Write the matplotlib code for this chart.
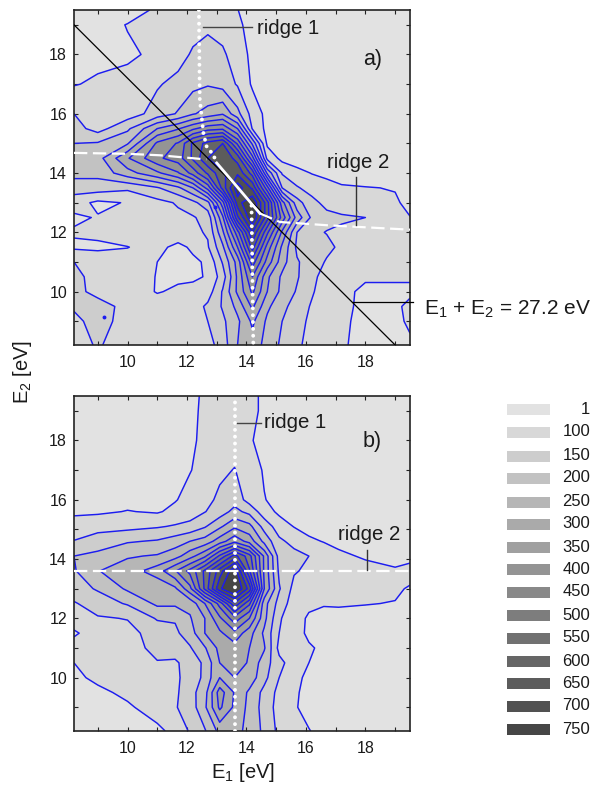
import matplotlib
matplotlib.use("Agg")
import matplotlib.pyplot as plt
from matplotlib.patches import Rectangle
from matplotlib.ticker import MultipleLocator

plt.rcParams['font.family'] = ['Liberation Sans', 'DejaVu Sans']
plt.rcParams['mathtext.default'] = 'regular'

legend_labels = ['1', '100', '150', '200', '250', '300', '350', '400', '450', '500', '550', '600', '650', '700', '750']
levels = [0, 100, 150, 200, 250, 300, 350, 400, 450, 500, 550, 600, 650, 700, 750, 3000]
greys = ['#e2e2e2', '#d8d8d8', '#cdcdcd', '#c2c2c2', '#b6b6b6', '#aaaaaa', '#a0a0a0', '#949494',
         '#898989', '#7d7d7d', '#717171', '#666666', '#5c5c5c', '#515151', '#464646']

a_x = [8.2, 9, 10, 11, 11.7, 12.2, 12.7, 13.2, 13.7, 14.2, 14.7, 15.2, 15.7, 16.2, 16.7, 17.2, 18, 19, 19.5]
a_y = [8.2, 9, 9.5, 10, 10.5, 11, 11.5, 12, 12.5, 13, 13.5, 14, 14.5, 15, 15.5, 16, 17, 18, 19, 19.5]
a_z = [
    [130,155,125,110,110,115,130,175,250,280,230,190,160,130,115,103,92,88,92],
    [140,165,135,115,118,125,150,190,240,310,240,200,165,140,120,105,92,88,108],
    [155,170,135,115,118,125,160,205,265,360,260,215,175,145,125,110,90,92,110],
    [165,135,118,98,105,115,125,205,310,410,300,235,195,155,125,110,92,92,92],
    [165,130,118,98.5,95,92,104,175,310,450,310,240,205,165,125,110,105,105,105],
    [150,125,115,100,85,90,108,205,320,525,380,270,205,175,145,115,105,105,105],
    [92,92,99,115,85,110,145,240,400,620,430,290,190,178,162,140,112,105,105],
    [105,110,120,125,135,140,155,290,480,700,510,340,200,160,148,140,122,108,105],
    [92,103,115,130,140,145,170,340,640,800,620,430,280,190,165,158,150,118,101],
    [120,90,103,135,155,185,235,430,730,800,620,370,220,165,135,120,112,105,90],
    [175,175,160,195,240,300,420,620,780,690,470,200,155,130,115,105,102,98,85],
    [215,215,280,340,395,470,560,640,690,580,290,145,115,98,90,82,75,70,70],
    [220,230,345,440,475,560,650,690,630,420,135,85,75,65,60,55,50,50,50],
    [200,205,245,410,455,560,620,650,490,290,90,75,65,55,50,50,50,50,50],
    [170,130,190,300,345,390,430,440,350,145,85,70,60,55,50,50,50,50,50],
    [150,125,125,170,205,245,270,295,215,130,85,70,60,55,50,50,50,50,50],
    [97,108,120,145,165,185,195,180,145,93,75,65,60,55,50,50,50,50,50],
    [80,85,90,112,130,157,170,158,125,88,70,60,55,50,50,50,50,50,50],
    [60,70,103,115,125,130,140,130,108,85,70,60,55,50,50,50,50,50,50],
    [60,60,65,112,120,125,130,130,101,80,70,60,55,50,50,50,50,50,50],
]

b_x = [8.2, 9, 10, 11, 11.6, 12.1, 12.6, 13.1, 13.6, 14.1, 14.6, 15.1, 15.6, 16.1, 16.6, 17.1, 18, 19, 19.5]
b_y = [8.2, 9, 9.5, 10, 10.5, 11, 11.5, 12, 12.5, 13, 13.6, 14.1, 14.6, 15.1, 15.6, 16, 17, 18, 19, 19.5]
b_z = [
    [70,75,80,88,115,155,195,265,290,215,195,135,115,102,85,80,75,70,70],
    [75,85,92,125,146,172,240,360,290,235,180,130,105,85,78,75,72,70,68],
    [75,88,112,130,140,180,230,375,295,240,185,135,108,85,80,78,75,72,70],
    [88,112,125,135,145,160,215,300,300,280,215,150,115,88,82,80,78,75,72],
    [100,110,125,147,143,170,210,300,345,290,225,165,125,100,85,80,78,75,72],
    [115,120,128,165,172,195,245,315,330,300,255,135,115,105,92,85,80,78,72],
    [95,118,135,170,190,225,300,340,385,320,240,150,118,92,85,82,80,78,75],
    [118,145,152,205,205,245,300,390,480,400,265,155,125,92,88,85,82,80,78],
    [145,175,205,260,260,265,350,470,640,510,270,180,125,112,103,105,102,98,92],
    [180,205,258,262,290,385,560,740,820,680,350,205,135,125,120,115,115,108,95],
    [195,248,275,325,395,465,560,675,790,555,340,190,155,140,130,125,120,105,120],
    [200,215,245,255,280,330,390,510,620,520,340,180,165,150,125,112,93,85,82],
    [152,170,195,205,225,250,270,325,385,330,235,160,135,108,98,85,75,72,70],
    [120,135,135,145,155,165,195,240,290,265,180,125,98,85,78,72,70,68,66],
    [92,92,102,95,112,125,148,175,215,185,122,90,80,74,70,68,66,65,65],
    [85,85,85,85,97,115,135,160,180,130,102,85,75,70,66,65,65,65,65],
    [72,72,72,75,88,98,115,140,152,125,95,80,72,68,65,65,65,65,65],
    [68,68,68,70,78,92,110,125,130,106,82,72,68,65,65,65,65,65,65],
    [65,65,65,68,75,90,108,120,125,112,92,72,66,65,65,65,65,65,65],
    [65,65,65,68,75,90,106,120,125,112,92,72,66,65,65,65,65,65,65],
]

a_r1_up_x = [12.40, 12.43, 12.55, 12.66, 12.88, 13.0]
a_r1_up_y = [19.5, 16.5, 15.36, 14.9, 14.62, 14.35]
a_r1_lo_x = [14.17, 14.2, 14.23]
a_r1_lo_y = [12.9, 10.5, 8.2]
a_mid_x = [13.0, 14.45]
a_mid_y = [14.34, 12.64]
a_r2_l_x = [8.2, 9.96, 11.08, 12.65]
a_r2_l_y = [14.68, 14.65, 14.6, 14.46]
a_r2_r_x = [14.45, 15.12, 16.7, 19.5]
a_r2_r_y = [12.64, 12.35, 12.24, 12.09]
a_spot_x = [9.22, 12.93]
a_spot_y = [9.15, 12.87]
sum_x = [8.2, 19.0]
sum_y = [19.0, 8.2]
b_ridge1 = 13.6
b_ridge2 = 13.6

W, H = 590, 785
fig = plt.figure(figsize=(W / 100, H / 100), dpi=100)
LINE = '#1c1cf0'
DOTS = dict(color='white', lw=2.8, ls=(0, (0.01, 1.75)), dash_capstyle='round', zorder=5)
DASH = dict(color='white', lw=1.6, ls=(0, (6, 2.5)), zorder=5)


def make_axes(top, bottom):
    ax = fig.add_axes([74 / W, 1 - bottom / H, 336 / W, (bottom - top) / H])
    ax.set_xlim(8.2, 19.5)
    ax.set_ylim(8.2, 19.5)
    ax.xaxis.set_major_locator(MultipleLocator(2))
    ax.yaxis.set_major_locator(MultipleLocator(2))
    ax.xaxis.set_minor_locator(MultipleLocator(1))
    ax.yaxis.set_minor_locator(MultipleLocator(1))
    ax.tick_params(which='both', direction='in', top=True, right=True, length=3, width=0.8,
                   color='#222222', labelcolor='#1a1a1a')
    ax.tick_params(axis='both', which='major', labelsize=11.5)
    ax.tick_params(axis='x', which='major', pad=7)
    ax.tick_params(axis='y', which='major', pad=5)
    for s in ax.spines.values():
        s.set_linewidth(1.2)
        s.set_color('#222222')
    return ax


def draw_field(ax, xs, ys, zs):
    ax.contourf(xs, ys, zs, levels=levels, colors=greys)
    ax.contour(xs, ys, zs, levels=levels[1:-1], colors=LINE, linewidths=1.05)


ax_a = make_axes(10, 345)
draw_field(ax_a, a_x, a_y, a_z)
ax_a.plot(a_spot_x, a_spot_y, ls='none', marker='o', ms=1.8, color=LINE, zorder=3)
ax_a.plot(sum_x, sum_y, color='black', lw=0.9, zorder=4)
ax_a.plot(a_r1_up_x, a_r1_up_y, **DOTS)
ax_a.plot(a_r1_lo_x, a_r1_lo_y, **DOTS)
ax_a.plot(a_mid_x, a_mid_y, color='white', lw=2.0, zorder=5)
ax_a.plot(a_r2_l_x, a_r2_l_y, **DASH)
ax_a.plot(a_r2_r_x, a_r2_r_y, **DASH)

ax_b = make_axes(396, 731)
draw_field(ax_b, b_x, b_y, b_z)
ax_b.axvline(b_ridge1, **DOTS)
ax_b.axhline(b_ridge2, **DASH)

# overlay in image pixels for annotations, labels and the level key
ov = fig.add_axes([0, 0, 1, 1], facecolor='none')
ov.set_xlim(0, W)
ov.set_ylim(H, 0)
ov.axis('off')

TC = '#1a1a1a'
ov.text(243, 773, 'E$_1$ [eV]', fontsize=14.5, color=TC, ha='center', va='center')
ov.text(22, 372, 'E$_2$ [eV]', rotation=90, fontsize=14.5, color=TC, ha='center', va='center')
ov.plot([203, 252], [27, 27], color='#444444', lw=1.0)
ov.text(257, 28, 'ridge 1', fontsize=14.7, color=TC, va='center')
ov.text(363, 59, 'a)', fontsize=15.5, color=TC, va='center')
ov.text(327, 162, 'ridge 2', fontsize=14.7, color=TC, va='center')
ov.plot([356, 356], [177, 225], color='#333333', lw=1.0)
ov.plot([353, 413], [302, 302], color='black', lw=0.9)
ov.text(424, 309, 'E$_1$ + E$_2$ = 27.2 eV', fontsize=15, color=TC, va='center')
ov.plot([237, 261], [423, 423], color='#444444', lw=1.0)
ov.text(264, 423, 'ridge 1', fontsize=14.7, color=TC, va='center')
ov.text(363, 442, 'b)', fontsize=15.5, color=TC, va='center')
ov.text(338, 534, 'ridge 2', fontsize=14.7, color=TC, va='center')
ov.plot([367, 367], [550, 570], color='#333333', lw=1.0)

key_y = [409, 432, 456, 478, 502, 524, 547, 569, 592, 615, 638, 661, 683, 706, 729]
for lab, col, yy in zip(legend_labels, greys, key_y):
    ov.add_patch(Rectangle((507, yy - 5.5), 43, 11, facecolor=col, edgecolor='none'))
    ov.text(590, yy, lab, fontsize=12, color=TC, ha='right', va='center')

fig.savefig('out.png', dpi=100)
